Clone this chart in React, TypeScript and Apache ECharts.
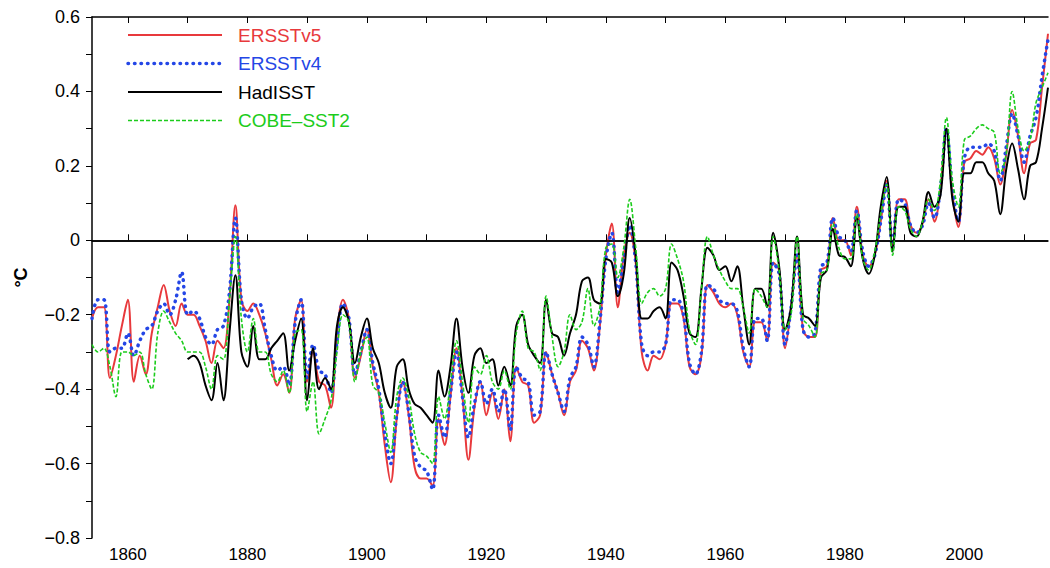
import React, { useEffect, useRef } from "react";
import * as echarts from "echarts";

const startYear = 1854;
const years: number[] = Array.from({ length: 161 }, (_, i) => startYear + i);

const ersstv5 = [
  -0.21,-0.18,-0.18,-0.37,-0.31,-0.23,-0.16,-0.38,-0.31,-0.36,
  -0.25,-0.18,-0.12,-0.19,-0.23,-0.17,-0.20,-0.20,-0.23,-0.27,
  -0.33,-0.27,-0.29,-0.16,0.094,-0.16,-0.19,-0.17,-0.20,-0.25,
  -0.32,-0.39,-0.36,-0.41,-0.21,-0.16,-0.38,-0.30,-0.38,-0.39,
  -0.45,-0.25,-0.16,-0.21,-0.37,-0.31,-0.24,-0.34,-0.41,-0.55,
  -0.65,-0.48,-0.38,-0.47,-0.61,-0.64,-0.64,-0.66,-0.48,-0.55,
  -0.42,-0.29,-0.42,-0.59,-0.45,-0.38,-0.47,-0.41,-0.48,-0.40,
  -0.54,-0.34,-0.38,-0.39,-0.49,-0.47,-0.30,-0.36,-0.41,-0.47,
  -0.38,-0.35,-0.27,-0.29,-0.35,-0.23,-0.04,0.045,-0.18,-0.04,
  0.02,-0.06,-0.30,-0.35,-0.31,-0.32,-0.28,-0.17,-0.17,-0.21,
  -0.34,-0.36,-0.31,-0.12,-0.14,-0.17,-0.18,-0.17,-0.20,-0.30,
  -0.34,-0.22,-0.22,-0.27,-0.06,-0.08,-0.29,-0.18,-0.04,-0.24,
  -0.26,-0.26,-0.08,-0.07,0.06,0,0,-0.04,0.09,-0.04,
  -0.07,-0.04,0.05,0.16,-0.02,0.11,0.11,0.04,0.02,0.045,
  0.11,0.05,0.14,0.30,0.125,0.036,0.21,0.22,0.24,0.23,
  0.25,0.22,0.15,0.23,0.35,0.28,0.18,0.26,0.27,0.41,
  0.555,
];

const ersstv4 = [
  -0.21,-0.16,-0.16,-0.30,-0.29,-0.29,-0.25,-0.31,-0.27,-0.24,
  -0.23,-0.19,-0.17,-0.20,-0.16,-0.085,-0.20,-0.19,-0.21,-0.26,
  -0.28,-0.24,-0.23,-0.14,0.06,-0.16,-0.21,-0.18,-0.17,-0.24,
  -0.31,-0.35,-0.34,-0.39,-0.22,-0.16,-0.37,-0.28,-0.35,-0.36,
  -0.41,-0.27,-0.17,-0.21,-0.36,-0.30,-0.24,-0.33,-0.40,-0.52,
  -0.60,-0.47,-0.38,-0.46,-0.58,-0.61,-0.62,-0.67,-0.47,-0.53,
  -0.41,-0.30,-0.42,-0.53,-0.44,-0.38,-0.44,-0.40,-0.46,-0.40,
  -0.51,-0.34,-0.37,-0.38,-0.47,-0.46,-0.30,-0.36,-0.41,-0.46,
  -0.37,-0.34,-0.26,-0.28,-0.34,-0.22,-0.05,0.02,-0.14,-0.05,
  0.04,-0.06,-0.28,-0.31,-0.30,-0.30,-0.28,-0.16,-0.16,-0.20,
  -0.33,-0.36,-0.30,-0.12,-0.13,-0.16,-0.17,-0.17,-0.19,-0.29,
  -0.34,-0.21,-0.21,-0.27,-0.06,-0.09,-0.28,-0.18,-0.04,-0.24,
  -0.26,-0.25,-0.07,-0.06,0.06,0.01,0,-0.03,0.08,-0.03,
  -0.07,-0.04,0.05,0.15,-0.02,0.11,0.10,0.04,0.02,0.04,
  0.10,0.06,0.14,0.30,0.14,0.05,0.22,0.25,0.25,0.25,
  0.26,0.24,0.16,0.25,0.34,0.28,0.21,0.28,0.33,0.44,
  0.54,
];

const hadisst = [
  null,null,null,null,null,null,null,null,null,null,null,null,null,null,null,null,
  -0.32,-0.31,-0.33,-0.39,-0.43,-0.33,-0.43,-0.25,-0.094,-0.30,
  -0.34,-0.23,-0.32,-0.32,-0.29,-0.27,-0.25,-0.35,-0.27,-0.21,
  -0.43,-0.29,-0.40,-0.37,-0.40,-0.23,-0.18,-0.22,-0.33,-0.26,
  -0.21,-0.29,-0.33,-0.41,-0.45,-0.34,-0.32,-0.40,-0.44,-0.45,
  -0.47,-0.49,-0.35,-0.42,-0.34,-0.21,-0.34,-0.41,-0.31,-0.29,
  -0.33,-0.32,-0.39,-0.34,-0.39,-0.23,-0.20,-0.28,-0.31,-0.33,
  -0.16,-0.25,-0.26,-0.31,-0.25,-0.20,-0.11,-0.10,-0.16,-0.17,
  -0.05,-0.06,-0.15,-0.09,0.06,-0.04,-0.21,-0.21,-0.19,-0.18,
  -0.21,-0.06,-0.08,-0.15,-0.25,-0.26,-0.13,-0.02,-0.04,-0.08,
  -0.07,-0.11,-0.07,-0.18,-0.28,-0.13,-0.13,-0.18,0.02,-0.07,
  -0.24,-0.18,0.01,-0.20,-0.21,-0.23,-0.10,-0.08,0.03,-0.04,
  -0.045,-0.07,0.06,-0.05,-0.09,-0.04,0.09,0.17,-0.03,0.09,
  0.09,0.02,0.01,0.05,0.13,0.09,0.12,0.30,0.11,0.05,
  0.18,0.18,0.21,0.21,0.18,0.16,0.07,0.19,0.26,0.19,
  0.11,0.20,0.21,0.30,0.41,
];

const cobesst2 = [
  -0.28,-0.30,-0.29,-0.34,-0.42,-0.30,-0.30,-0.31,-0.30,-0.36,
  -0.40,-0.25,-0.19,-0.22,-0.25,-0.27,-0.30,-0.30,-0.30,-0.34,
  -0.40,-0.31,-0.32,-0.16,0.01,-0.21,-0.30,-0.21,-0.30,-0.30,
  -0.36,-0.38,-0.35,-0.41,-0.25,-0.24,-0.46,-0.38,-0.52,-0.48,
  -0.43,-0.30,-0.20,-0.22,-0.38,-0.30,-0.26,-0.39,-0.41,-0.49,
  -0.57,-0.42,-0.37,-0.42,-0.52,-0.57,-0.58,-0.60,-0.42,-0.48,
  -0.38,-0.27,-0.38,-0.49,-0.34,-0.36,-0.31,-0.38,-0.40,-0.35,
  -0.40,-0.25,-0.19,-0.29,-0.30,-0.35,-0.15,-0.26,-0.34,-0.30,
  -0.20,-0.24,-0.22,-0.13,-0.23,-0.18,-0.02,-0.01,-0.10,-0.02,
  0.11,-0.02,-0.17,-0.14,-0.13,-0.15,-0.13,-0.01,-0.05,-0.11,
  -0.24,-0.28,-0.13,0.01,-0.04,-0.08,-0.11,-0.13,-0.13,-0.18,
  -0.25,-0.13,-0.15,-0.18,0.01,-0.08,-0.24,-0.20,0.01,-0.21,
  -0.23,-0.26,-0.09,-0.08,0.045,-0.02,-0.05,-0.05,0.07,-0.05,
  -0.08,-0.03,0.07,0.15,-0.04,0.09,0.08,0.03,0.01,0.05,
  0.11,0.08,0.16,0.33,0.16,0.09,0.27,0.28,0.30,0.31,
  0.30,0.29,0.18,0.23,0.40,0.30,0.24,0.27,0.37,0.41,
  0.45,
];

const xLabels = [1860, 1880, 1900, 1920, 1940, 1960, 1980, 2000];
const xTicks = [1860, 1870, 1880, 1890, 1900, 1910, 1920, 1930, 1940, 1950, 1960, 1970, 1980, 1990, 2000, 2010];
const legendNames = ["ERSSTv5", "ERSSTv4", "HadISST", "COBE-SST2"];
const legendColors = ["#e8393c", "#2446e6", "#000000", "#1ccc1c"];

const FONT = "'Liberation Sans', Arial, sans-serif";

function pairs(vals: (number | null)[]) {
  return years.map((y, i) => [y, vals[i]]);
}

export default function App() {
  const ref = useRef<HTMLDivElement>(null);
  useEffect(() => {
    if (!ref.current) return;
    const chart = echarts.init(ref.current, undefined, { renderer: "svg" });
    const legendGraphics: any[] = [];
    const dashes: any[] = ["solid", [0.5, 6], "solid", [4, 2]];
    const widths = [2, 3.5, 2, 1.6];
    legendNames.forEach((n, i) => {
      const y = 35 + i * 28.5;
      legendGraphics.push({
        type: "line",
        shape: { x1: 128, y1: y, x2: 222, y2: y },
        style: { stroke: legendColors[i], lineWidth: widths[i], lineDash: dashes[i] === "solid" ? null : dashes[i], lineCap: i === 1 ? "round" : "butt" },
      });
      legendGraphics.push({
        type: "text",
        x: 238,
        y: y,
        style: { text: n.replace("-", "\u2013"), fill: legendColors[i], font: `19px ${FONT}`, textVerticalAlign: "middle" },
      });
    });
    const mk = (name: string, data: any, i: number, z: number) => ({
      name,
      type: "line",
      data: pairs(data),
      smooth: 0.35,
      showSymbol: false,
      connectNulls: false,
      z,
      lineStyle: {
        color: legendColors[i],
        width: widths[i],
        type: dashes[i],
        cap: i === 1 ? "round" : "butt",
      },
    });
    chart.setOption({
      animation: false,
      grid: { left: 92, right: 2, top: 17, bottom: 30 },
      xAxis: [
        {
          type: "value",
          min: 1854,
          max: 2014,
          axisLine: { show: true, lineStyle: { color: "#000", width: 1.5 } },
          splitLine: { show: false },
          axisTick: { show: true, inside: true, length: 6, lineStyle: { color: "#000" }, customValues: xTicks },
          axisLabel: { customValues: xLabels, color: "#000", fontSize: 17, fontFamily: FONT, margin: 8, formatter: (v: number) => String(v) },
        },
        {
          type: "value",
          position: "top",
          min: 1854,
          max: 2014,
          axisLine: { show: true, lineStyle: { color: "#000", width: 1.5 } },
          splitLine: { show: false },
          axisTick: { show: true, inside: true, length: 6, lineStyle: { color: "#000" }, customValues: xTicks },
          axisLabel: { show: false },
        },
      ],
      yAxis: [
        {
          type: "value",
          min: -0.8,
          max: 0.6,
          interval: 0.2,
          name: "°C",
          nameLocation: "middle",
          nameGap: 62,
          nameTextStyle: { color: "#000", fontSize: 18, fontFamily: FONT, fontWeight: "bold" },
          axisLine: { show: true, lineStyle: { color: "#000", width: 1.5 } },
          splitLine: { show: false },
          axisTick: { show: true, inside: false, length: 6, lineStyle: { color: "#000" } },
          minorTick: { show: true, splitNumber: 2, length: 6, lineStyle: { color: "#000" } },
          axisLabel: {
            color: "#000",
            fontSize: 18,
            fontFamily: FONT,
            margin: 12,
            formatter: (v: number) => {
              const r = Math.round(v * 10) / 10;
              if (r === 0) return "0";
              return (r < 0 ? "\u2212" : "") + Math.abs(r).toFixed(1);
            },
          },
        },
      ],
      graphic: legendGraphics,
      series: [
        {
          ...mk("ERSSTv5", ersstv5, 0, 2),
          markLine: {
            silent: true,
            symbol: "none",
            label: { show: false },
            lineStyle: { color: "#000", width: 1.5, type: "solid" },
            data: [{ yAxis: 0 }],
          },
        },
        mk("ERSSTv4", ersstv4, 1, 3),
        mk("HadISST", hadisst, 2, 4),
        mk("COBE-SST2", cobesst2, 3, 5),
      ],
    });
    return () => chart.dispose();
  }, []);
  return <div ref={ref} style={{ position: "fixed", left: 0, top: 0, width: 1050, height: 568, background: "#fff" }} />;
}
